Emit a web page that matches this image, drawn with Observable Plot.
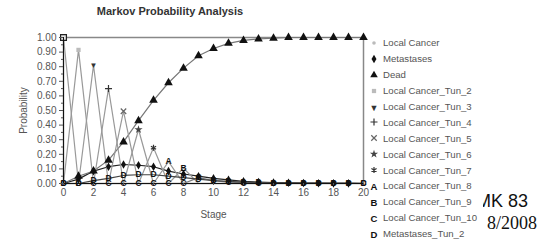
<!DOCTYPE html>
<html><head><meta charset="utf-8">
<script src="https://cdn.jsdelivr.net/npm/d3@7"></script>
<script src="https://cdn.jsdelivr.net/npm/@observablehq/plot@0.6"></script>
<style>
body{margin:0;background:#fff;}
#wrap{position:relative;width:540px;height:244px;overflow:hidden;font-family:"Liberation Sans",Arial,sans-serif;background:#fff;}
#wrap svg.plot{position:absolute;left:0;top:0;}
#title{position:absolute;left:0;width:340px;top:5px;text-align:center;font-weight:bold;font-size:11px;color:#333;}
#legend{position:absolute;left:368px;top:35px;}
.row{height:15.9px;display:flex;align-items:center;font-size:9.6px;color:#555;white-space:nowrap;}
.row svg{width:12px;height:12px;margin-right:3px;flex:none;}
#mk{position:absolute;left:483px;top:191px;width:57px;height:24px;overflow:hidden;}
#mk span{position:absolute;left:-7px;top:0;font-family:"Liberation Sans",Arial,sans-serif;font-size:18px;color:#111;white-space:nowrap;}
#dt{position:absolute;left:487px;top:213px;font-family:"Liberation Serif","Times New Roman",serif;font-size:18px;color:#111;white-space:nowrap;}
</style></head>
<body>
<div id="wrap">
  <div id="title"></div>
  <div id="legend"></div>
  <div id="mk"><span></span></div>
  <div id="dt"></div>
</div>
<script>
// ---- data ----
const titleText = "Markov Probability Analysis";
const xLabel = "Stage";
const yLabel = "Probability";
const stages = [0,1,2,3,4,5,6,7,8,9,10,11,12,13,14,15,16,17,18,19,20];
const xTicks = [0,2,4,6,8,10,12,14,16,18,20];
const yTicks = [0,0.1,0.2,0.3,0.4,0.5,0.6,0.7,0.8,0.9,1.0];
const yMinorTicks = [0.05,0.15,0.25,0.35,0.45,0.55,0.65,0.75,0.85,0.95];
const seriesNames = ["Local Cancer","Metastases","Dead","Local Cancer_Tun_2","Local Cancer_Tun_3","Local Cancer_Tun_4","Local Cancer_Tun_5","Local Cancer_Tun_6","Local Cancer_Tun_7","Local Cancer_Tun_8","Local Cancer_Tun_9","Local Cancer_Tun_10","Metastases_Tun_2"];
const localCancer = [1,0,0,0,0,0,0,0,0,0,0,0,0,0,0,0,0,0,0,0,0];
const metastases  = [0,0.03,0.085,0.115,0.13,0.125,0.115,0.085,0.065,0.05,0.035,0.025,0.015,0.01,0.007,0.005,0.003,0.002,0.001,0.001,0];
const dead        = [0,0.05,0.085,0.16,0.285,0.43,0.57,0.69,0.79,0.875,0.925,0.96,0.98,0.99,0.995,1,1,1,1,1,1];
const tun2  = [0,0.915,0,0,0,0,0,0,0,0,0,0,0,0,0,0,0,0,0,0,0];
const tun3  = [0,0,0.81,0,0,0,0,0,0,0,0,0,0,0,0,0,0,0,0,0,0];
const tun4  = [0,0,0,0.65,0,0,0,0,0,0,0,0,0,0,0,0,0,0,0,0,0];
const tun5  = [0,0,0,0,0.495,0,0,0,0,0,0,0,0,0,0,0,0,0,0,0,0];
const tun6  = [0,0,0,0,0,0.37,0,0,0,0,0,0,0,0,0,0,0,0,0,0,0];
const tun7  = [0,0,0,0,0,0,0.245,0,0,0,0,0,0,0,0,0,0,0,0,0,0];
const tun8  = [0,0,0,0,0,0,0,0.15,0,0,0,0,0,0,0,0,0,0,0,0,0];
const tun9  = [0,0,0,0,0,0,0,0,0.105,0,0,0,0,0,0,0,0,0,0,0,0];
const tun10 = [0,0,0,0,0,0,0,0,0,0.04,0.02,0.01,0.005,0.002,0,0,0,0,0,0,0];
const metTun2 = [0,0,0.02,0.035,0.055,0.06,0.06,0.05,0.04,0.03,0.02,0.015,0.01,0.007,0.005,0.004,0.003,0.003,0.002,0.002,0.001];
const overlayA = "MK 83";
const overlayB = "8/2008";

const seriesValues = [localCancer,metastases,dead,tun2,tun3,tun4,tun5,tun6,tun7,tun8,tun9,tun10,metTun2];

// ---- styles ----
const mStyle = [
  {k:"dot", symbol:"square", r:3.3, fill:"#e4e4e4", stroke:"#222", line:"#999", leg:{k:"dot",symbol:"circle",r:1.8,fill:"#bbb"}},
  {k:"dot", symbol:"diamond", r:2.6, fill:"#111", line:"#222"},
  {k:"dot", symbol:"triangle", r:3.2, fill:"#111", line:"#777"},
  {k:"dot", symbol:"square", r:2.4, fill:"#bbb", line:"#999"},
  {k:"text", t:"▼", size:8, fill:"#333", line:"#999"},
  {k:"dot", symbol:"plus", r:2.4, stroke:"#333", line:"#999"},
  {k:"dot", symbol:"times", r:2.6, stroke:"#666", line:"#999"},
  {k:"dot", symbol:"star", r:2.6, fill:"#444", line:"#999"},
  {k:"dot", symbol:"asterisk", r:2.8, stroke:"#333", line:"#999"},
  {k:"text", t:"A", size:8.5, fill:"#111", line:"#999"},
  {k:"text", t:"B", size:8.5, fill:"#111", line:"#999"},
  {k:"text", t:"C", size:8.5, fill:"#111", line:"#777"},
  {k:"text", t:"D", size:8.5, fill:"#111", line:"#444"}
];

const rows = seriesNames.map((n,i)=>seriesValues[i].map((v,j)=>({series:n, stage:stages[j], value:v})));

const marks = [Plot.frame({stroke:"#888", strokeWidth:1.5})];
rows.forEach((r,i)=>{
  marks.push(Plot.line(r,{x:"stage",y:"value",stroke:mStyle[i].line,strokeWidth:1.2}));
});
rows.forEach((r,i)=>{
  const s = mStyle[i];
  const data = (i>=11) ? r : r.filter(d=>d.value>0);
  if (s.k==="dot") {
    marks.push(Plot.dot(data,{x:"stage",y:"value",symbol:()=>s.symbol,r:s.r,fill:s.fill||"none",stroke:s.stroke||"none",strokeWidth:1.2}));
  } else {
    marks.push(Plot.text(data,{x:"stage",y:"value",text:()=>s.t,fontSize:s.size,fontWeight:"bold",fill:s.fill,fontFamily:"Liberation Sans, Arial, sans-serif"}));
  }
});
marks.push(Plot.ruleY([0],{stroke:"#111"}));
marks.push(Plot.ruleX([0],{stroke:"#111"}));
marks.push(Plot.axisY({ticks:yTicks, tickFormat:d=>d.toFixed(2), tickSize:4, tickPadding:3, label:yLabel, labelAnchor:"center", labelOffset:44, labelArrow:"none", fontSize:10, fill:"#555"}));
marks.push(Plot.axisY({ticks:yMinorTicks, tickFormat:()=>"", tickSize:2, label:null}));
marks.push(Plot.axisX({ticks:xTicks, tickSize:2, tickPadding:3, label:xLabel, labelAnchor:"center", labelOffset:34, labelArrow:"none", fontSize:10, fill:"#555"}));

const chart = Plot.plot({
  width:540, height:244,
  marginLeft:63, marginRight:177, marginTop:37, marginBottom:61,
  x:{domain:[0,20]},
  y:{domain:[0,1]},
  style:{fontFamily:"Liberation Sans, Arial, sans-serif", fontSize:"10px", color:"#555", background:"transparent", overflow:"visible"},
  marks
});
chart.classList.add("plot");
const wrap = document.getElementById("wrap");
wrap.insertBefore(chart, wrap.firstChild);

document.getElementById("title").textContent = titleText;
document.querySelector("#mk span").textContent = overlayA;
document.getElementById("dt").textContent = overlayB;

// legend
const leg = d3.select("#legend");
seriesNames.forEach((n,i)=>{
  const s = mStyle[i].leg || mStyle[i];
  const row = leg.append("div").attr("class","row");
  const sv = row.append("svg").attr("viewBox","-6 -6 12 12");
  if (s.k==="dot") {
    const sym = {circle:d3.symbolCircle,square:d3.symbolSquare,diamond:d3.symbolDiamond,triangle:d3.symbolTriangle,plus:d3.symbolPlus,times:d3.symbolTimes,star:d3.symbolStar,asterisk:d3.symbolAsterisk}[s.symbol];
    const r = Math.min(s.r,2.8);
    sv.append("path").attr("d", d3.symbol(sym, Math.PI*r*r)()).attr("fill", s.fill||"none").attr("stroke", s.stroke||"none").attr("stroke-width",1.2);
  } else {
    sv.append("text").attr("x",0).attr("y",3.5).attr("text-anchor","middle").attr("font-size",s.size+1).attr("font-weight","bold").attr("fill",s.fill).text(s.t);
  }
  row.append("span").text(n);
});
</script>
</body></html>
